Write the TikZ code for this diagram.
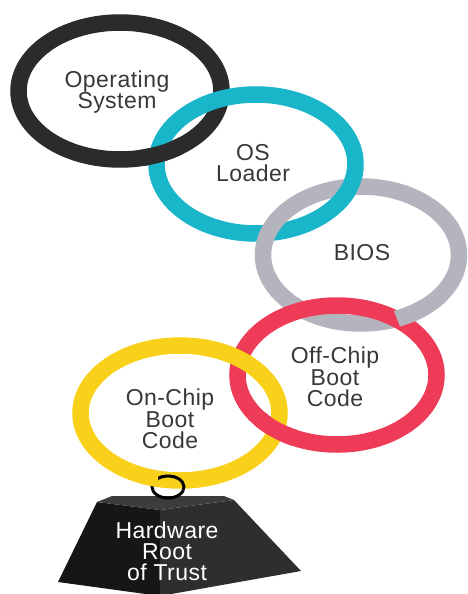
\documentclass[tikz,border=0pt]{standalone}
\usepackage{fontspec}
\setmainfont{Liberation Sans}[LetterSpace=2]
\definecolor{cBlack}{HTML}{2B2B2B}
\definecolor{cCyan}{HTML}{19B5C9}
\definecolor{cGray}{HTML}{B4B4BE}
\definecolor{cRed}{HTML}{EE3B57}
\definecolor{cYellow}{HTML}{F9D11B}
\definecolor{txtgray}{HTML}{383838}
\definecolor{faceL}{HTML}{161616}
\definecolor{faceR}{HTML}{2E2E2E}
\definecolor{faceT}{HTML}{3C3C3C}
\begin{document}
\begin{tikzpicture}[x=1pt,y=-1pt,
  ring/.style={line width=16.5pt},
  lbl/.style={align=center, text=txtgray, font=\fontsize{23}{21.5}\selectfont, inner sep=0pt},
  hwlbl/.style={align=center, text=white, font=\fontsize{23}{21}\selectfont, inner sep=0pt}]
\useasboundingbox[fill=white] (0,0) rectangle (468,594);
\coordinate (cB) at (120,91);
\coordinate (cC) at (256,164);
\coordinate (cG) at (361,255);
\coordinate (cR) at (337,375);
\coordinate (cY) at (180,413);
% rings
\draw[ring, cBlack] (cB) ellipse [x radius=101.5pt, y radius=68.5pt];
\draw[ring, cCyan] (cC) ellipse [x radius=99.5pt, y radius=69.5pt];
\draw[ring, cGray] (cG) ellipse [x radius=98pt, y radius=68.5pt];
\draw[ring, cRed] (cR) ellipse [x radius=99.5pt, y radius=69.5pt];
\draw[ring, cYellow] (cY) ellipse [x radius=99.5pt, y radius=67.5pt];
% interlocking
\begin{scope}
  \clip (162,152) circle [radius=22pt];
  \draw[ring, cBlack] (cB) ellipse [x radius=101.5pt, y radius=68.5pt];
\end{scope}
\begin{scope}
  \clip (350,187) circle [radius=22pt];
  \draw[ring, cCyan] (cC) ellipse [x radius=99.5pt, y radius=69.5pt];
\end{scope}
\begin{scope}
  \clip (389,299) -- (405,339) -- (468,339) -- (468,299) -- cycle;
  \draw[ring, cGray] (cG) ellipse [x radius=98pt, y radius=68.5pt];
\end{scope}
\begin{scope}
  \clip (276,431) circle [radius=22pt];
  \draw[ring, cRed] (cR) ellipse [x radius=99.5pt, y radius=69.5pt];
\end{scope}
% pyramid
\coordinate (pTL) at (97,502);
\coordinate (pBL1) at (112,496);
\coordinate (pBR1) at (224,496);
\coordinate (pTR) at (234,500);
\coordinate (pTF) at (160,510);
\coordinate (pBL) at (58,582);
\coordinate (pBF) at (160,596);
\coordinate (pBR) at (301,571);
\fill[faceL] (pTL) -- (pTF) -- (pBF) -- (pBL) -- cycle;
\fill[faceR] (pTF) -- (pTR) -- (pBR) -- (pBF) -- cycle;
\fill[faceT] (pTL) -- (pBL1) -- (pBR1) -- (pTR) -- (pTF) -- cycle;
% hook ring
\coordinate (hk) at (168,487);
\draw[line width=3pt, black] (hk) ellipse [x radius=16pt, y radius=11pt];
\begin{scope}
  \clip (140,474) rectangle (158,490);
  \draw[ring, cYellow] (cY) ellipse [x radius=99.5pt, y radius=67.5pt];
\end{scope}
% labels
\node[lbl] (os) at (117,92) {Operating\\System};
\node[lbl] (osl) at (253,163) {OS\\Loader};
\node[lbl] (bios) at (362,253) {BIOS};
\node[lbl] (off) at (335,377) {Off-Chip\\Boot\\Code};
\node[lbl] (on) at (170,419) {On-Chip\\Boot\\Code};
\node[hwlbl] (hw) at (167,551) {Hardware\\Root\\of Trust};
\end{tikzpicture}
\end{document}
